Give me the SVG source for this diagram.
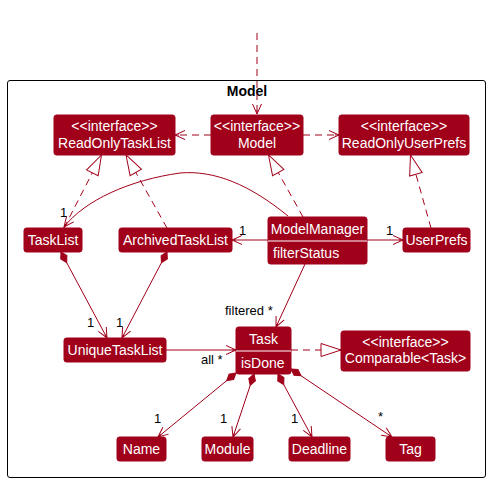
<svg xmlns="http://www.w3.org/2000/svg" width="491" height="483" viewBox="0 0 491 483">
<style>
.box{fill:#A1001A;stroke:#A1001A;stroke-width:1}
.t{font-family:"Liberation Sans",Arial,sans-serif;font-size:14px;fill:#FFFFFF}
.c{text-anchor:middle}
.lbl{font-family:"Liberation Sans",Arial,sans-serif;font-size:13px;fill:#000000}
.ln{fill:none;stroke:#A1001A;stroke-width:1}
.dash{stroke-dasharray:7,5}
.div{stroke:#FFFFFF;stroke-width:1}
</style>
<defs>
<marker id="open" markerUnits="userSpaceOnUse" markerWidth="14" markerHeight="12" viewBox="-11 -6 12 12" refX="0" refY="0" orient="auto">
<path d="M-10,-4.5 L0,0 L-10,4.5 M-4,0 L0,0" fill="none" stroke="#A1001A" stroke-width="1"/>
</marker>
<marker id="tri" markerUnits="userSpaceOnUse" markerWidth="24" markerHeight="16" viewBox="-21 -8 22 16" refX="0" refY="0" orient="auto">
<path d="M0,0 L-20,-6.5 L-20,6.5 Z" fill="#FFFFFF" stroke="#A1001A" stroke-width="1"/>
</marker>
<marker id="dia" markerUnits="userSpaceOnUse" markerWidth="16" markerHeight="10" viewBox="-1 -5 16 10" refX="0" refY="0" orient="auto">
<path d="M0,0 L6,-3.5 L12,0 L6,3.5 Z" fill="#A1001A" stroke="#A1001A" stroke-width="1"/>
</marker>
</defs>

<g id="frame">
<rect x="7.5" y="80.5" width="478" height="397" rx="2.5" fill="none" stroke="#000000" stroke-width="1"/>
<text x="247" y="96" text-anchor="middle" font-family="'Liberation Sans',Arial,sans-serif" font-size="14" font-weight="bold" fill="#000000">Model</text>
</g>

<g id="connectors">
<path class="ln dash" d="M257,33 L257,114" marker-end="url(#open)"/>
<path class="ln dash" d="M211,135 L175,135" marker-end="url(#open)"/>
<path class="ln dash" d="M303,135 L339,135" marker-end="url(#open)"/>
<path class="ln dash" d="M64,228 L101.5,155" marker-end="url(#tri)"/>
<path class="ln dash" d="M167,228 L126,155" marker-end="url(#tri)"/>
<path class="ln dash" d="M303,217 L268.5,155" marker-end="url(#tri)"/>
<path class="ln dash" d="M431,228 L410.5,155" marker-end="url(#tri)"/>
<path class="ln" d="M288,216 C250,185 215,170 180,173 C130,180 85,200 64,227" marker-end="url(#open)"/>
<path class="ln" d="M268,240 L232,240" marker-end="url(#open)"/>
<path class="ln" d="M367,240 L403,240" marker-end="url(#open)"/>
<path class="ln" d="M61,252 L107,338" marker-start="url(#dia)" marker-end="url(#open)"/>
<path class="ln" d="M167,252 L122,338" marker-start="url(#dia)" marker-end="url(#open)"/>
<path class="ln" d="M305,264 L276,327" marker-end="url(#open)"/>
<path class="ln" d="M166,350 L236,350" marker-end="url(#open)"/>
<path class="ln dash" d="M291,350 L341,350" marker-end="url(#tri)"/>
<path class="ln" d="M236,373 L158,437" marker-start="url(#dia)" marker-end="url(#open)"/>
<path class="ln" d="M254,374 L233,437" marker-start="url(#dia)" marker-end="url(#open)"/>
<path class="ln" d="M278,374 L312,437" marker-start="url(#dia)" marker-end="url(#open)"/>
<path class="ln" d="M291,369 L392,437" marker-start="url(#dia)" marker-end="url(#open)"/>
<text class="lbl" x="60" y="217">1</text>
<text class="lbl" x="239" y="235">1</text>
<text class="lbl" x="386" y="235">1</text>
<text class="lbl" x="87" y="327">1</text>
<text class="lbl" x="116" y="327">1</text>
<text class="lbl" x="225" y="315">filtered *</text>
<text class="lbl" x="201" y="364">all *</text>
<text class="lbl" x="154" y="423">1</text>
<text class="lbl" x="220" y="423">1</text>
<text class="lbl" x="291" y="423">1</text>
<text class="lbl" x="378" y="421">*</text>
</g>

<g id="ReadOnlyTaskList">
<rect class="box" x="54" y="115" width="121" height="40" rx="2.5"/>
<text class="t c" x="114.5" y="131">&lt;&lt;interface&gt;&gt;</text>
<text class="t c" x="114.5" y="147.5">ReadOnlyTaskList</text>
</g>
<g id="Model">
<rect class="box" x="211" y="115" width="92" height="40" rx="2.5"/>
<text class="t c" x="257" y="131">&lt;&lt;interface&gt;&gt;</text>
<text class="t c" x="257" y="147.5">Model</text>
</g>
<g id="ReadOnlyUserPrefs">
<rect class="box" x="339" y="115" width="130" height="40" rx="2.5"/>
<text class="t c" x="404" y="131">&lt;&lt;interface&gt;&gt;</text>
<text class="t c" x="404" y="147.5">ReadOnlyUserPrefs</text>
</g>
<g id="TaskList">
<rect class="box" x="24" y="228" width="58" height="24" rx="2.5"/>
<text class="t c" x="53" y="244.5">TaskList</text>
</g>
<g id="ArchivedTaskList">
<rect class="box" x="119" y="228" width="113" height="24" rx="2.5"/>
<text class="t c" x="175.5" y="244.5">ArchivedTaskList</text>
</g>
<g id="ModelManager">
<rect class="box" x="268" y="217" width="99" height="47" rx="2.5"/>
<line class="div" x1="268" y1="241" x2="367" y2="241"/>
<text class="t c" x="317.5" y="234">ModelManager</text>
<text class="t" x="273" y="257.5">filterStatus</text>
</g>
<g id="UserPrefs">
<rect class="box" x="403" y="228" width="67" height="24" rx="2.5"/>
<text class="t c" x="436.5" y="244.5">UserPrefs</text>
</g>
<g id="UniqueTaskList">
<rect class="box" x="64" y="338" width="102" height="24" rx="2.5"/>
<text class="t c" x="115" y="355">UniqueTaskList</text>
</g>
<g id="Task">
<rect class="box" x="236" y="327" width="55" height="47" rx="2.5"/>
<line class="div" x1="236" y1="351" x2="291" y2="351"/>
<text class="t c" x="263.5" y="344">Task</text>
<text class="t" x="241" y="368">isDone</text>
</g>
<g id="Comparable">
<rect class="box" x="341" y="331" width="129" height="40" rx="2.5"/>
<text class="t c" x="405.5" y="347">&lt;&lt;interface&gt;&gt;</text>
<text class="t c" x="405.5" y="363">Comparable&lt;Task&gt;</text>
</g>
<g id="Name">
<rect class="box" x="117" y="437" width="49" height="24" rx="2.5"/>
<text class="t c" x="141.5" y="453.5">Name</text>
</g>
<g id="Module">
<rect class="box" x="202" y="437" width="51" height="24" rx="2.5"/>
<text class="t c" x="227.5" y="453.5">Module</text>
</g>
<g id="Deadline">
<rect class="box" x="289" y="437" width="61" height="24" rx="2.5"/>
<text class="t c" x="319.5" y="453.5">Deadline</text>
</g>
<g id="Tag">
<rect class="box" x="386" y="437" width="49" height="24" rx="2.5"/>
<text class="t c" x="410.5" y="453.5">Tag</text>
</g>
</svg>
